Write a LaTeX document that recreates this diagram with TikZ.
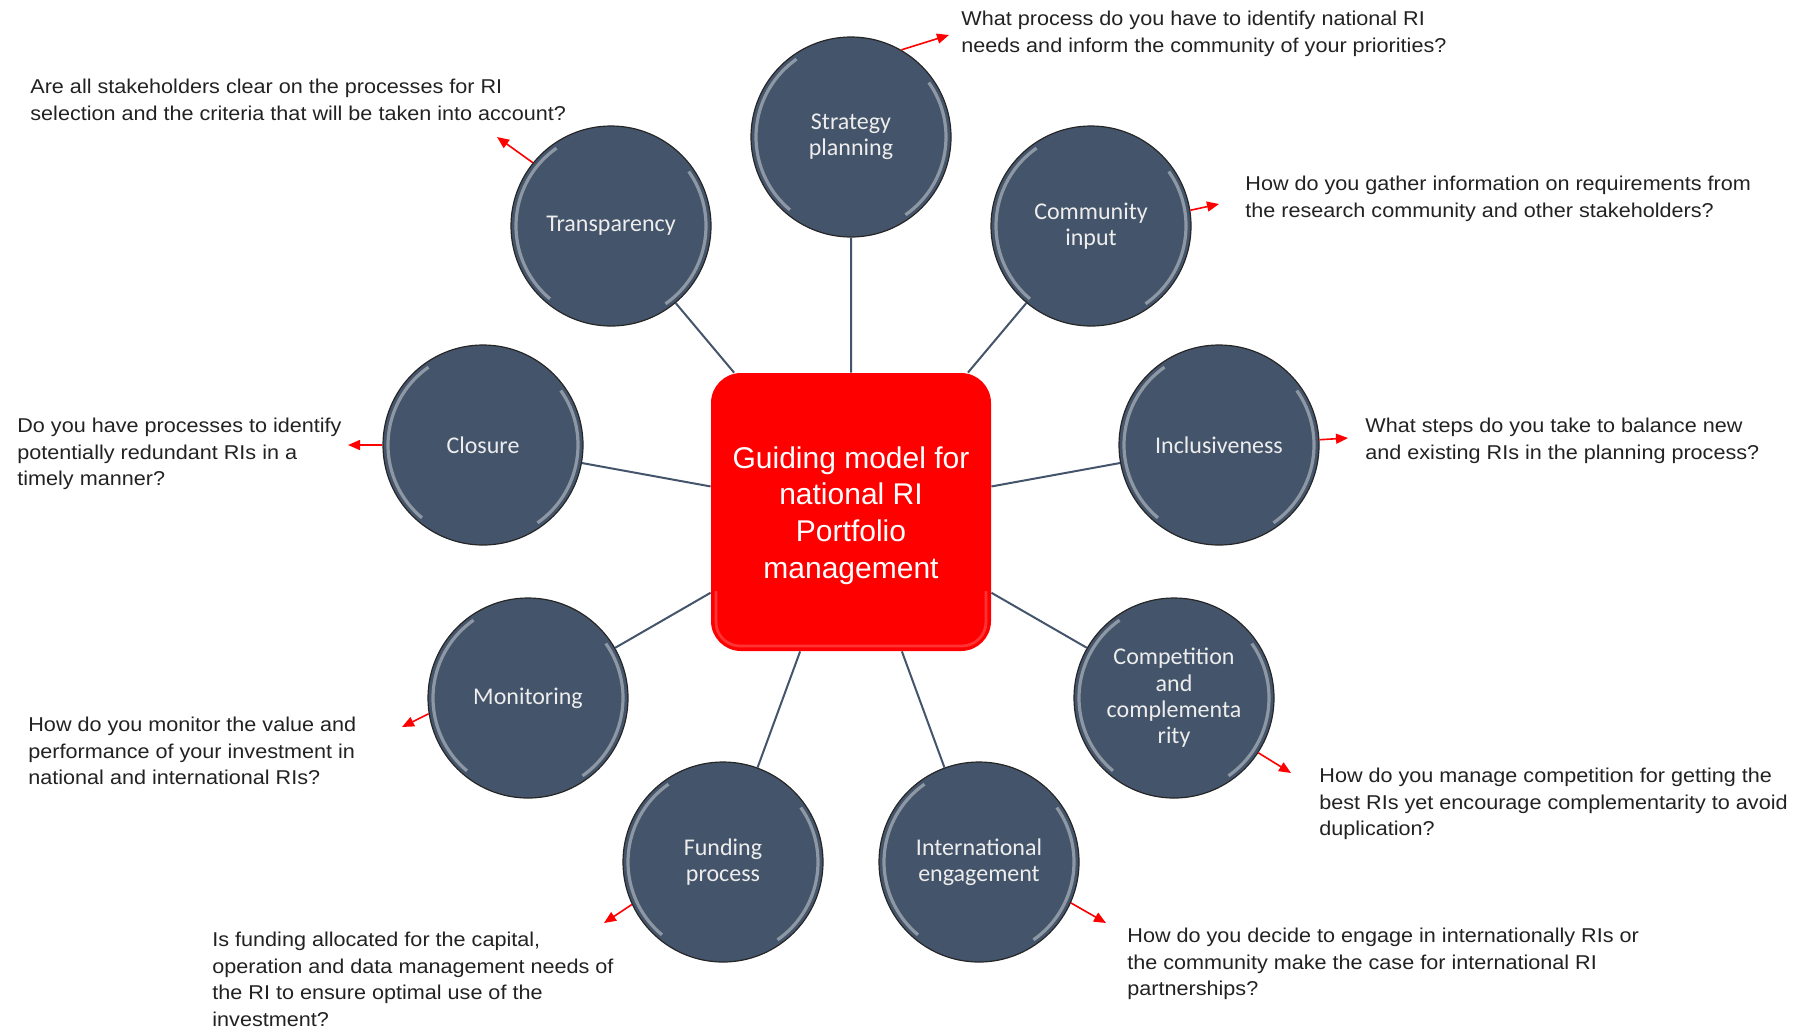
\documentclass[tikz,border=0pt]{standalone}
\usepackage{fontspec}
\setmainfont{Liberation Sans}
\newfontfamily\carlito{Carlito}
\newfontfamily\askfont[FakeStretch=1.08]{Liberation Sans}
\usetikzlibrary{arrows.meta,positioning,shapes}
\definecolor{slate}{HTML}{44546A}
\definecolor{bubbletext}{HTML}{EDEDED}
\definecolor{hubred}{HTML}{FF0000}
\definecolor{asktext}{HTML}{222222}

\begin{document}
\begin{tikzpicture}[x=0.5pt,y=-0.5pt,
  bubble/.style={circle,minimum size=100pt,inner sep=0pt,fill=slate,draw=black!85,line width=.6pt,
    align=center,text=bubbletext,font=\carlito\fontsize{12}{13.2}\selectfont,
    path picture={
      \draw[white,opacity=.4,line width=1.6pt] ([shift={(125:47.5pt)}]path picture bounding box.center) arc[start angle=125,end angle=230,radius=47.5pt];
      \draw[white,opacity=.4,line width=1.6pt] ([shift={(-55:47.5pt)}]path picture bounding box.center) arc[start angle=-55,end angle=35,radius=47.5pt];}},
  hub/.style={rectangle,rounded corners=15pt,minimum width=140pt,minimum height=139pt,fill=hubred,
    text=white,align=center,font=\fontsize{15}{18.4}\selectfont,
    path picture={\draw[white,opacity=.2,line width=1.4pt,rounded corners=12pt]
      ([shift={(2.5pt,30pt)}]path picture bounding box.south west) |- ([shift={(-2.5pt,2.5pt)}]path picture bounding box.south east) -- ++(0,27.5pt);}},
  question/.style={anchor=north west,inner sep=0pt,align=left,text=asktext,font=\askfont\fontsize{10}{13.2}\selectfont},
  spoke/.style={draw=slate,line width=1pt},
  cue/.style={draw=red,line width=.8pt,-{Triangle[length=6pt,width=5pt]}}]
\useasboundingbox (0,0) rectangle (1803,1029);

\node[hub] (hub) at (851,512) {\\[-4pt]Guiding model for\\national RI\\Portfolio\\management};

\node[bubble] (sp) at (851,137) {Strategy\\planning};
\node[bubble] (ci) at (1091,226) {Community\\input};
\node[bubble] (incl) at (1219,445) {Inclusiveness};
\node[bubble] (cc) at (1174,698) {Competition\\and\\complementa\\rity};
\node[bubble] (ie) at (979,862) {International\\engagement};
\node[bubble] (fp) at (723,862) {Funding\\process};
\node[bubble] (mo) at (528,698) {Monitoring};
\node[bubble] (cl) at (483,445) {Closure};
\node[bubble] (tr) at (611,226) {Transparency};

\draw[spoke] (hub)--(sp) (hub)--(ci) (hub)--(incl) (hub)--(cc) (hub)--(ie)
  (hub)--(fp) (hub)--(mo) (hub)--(cl) (hub)--(tr);

\coordinate (spq) at (949,35);
\coordinate (ciq) at (1219,204);
\coordinate (inclq) at (1348,438);
\coordinate (ccq) at (1291,773);
\coordinate (ieq) at (1106,923);
\coordinate (fpq) at (604,923);
\coordinate (moq) at (402,727);
\coordinate (clq) at (348,445);
\coordinate (trq) at (497,137);
\draw[cue] (sp.60)--(spq);
\draw[cue] (ci.9)--(ciq);
\draw[cue] (incl.3)--(inclq);
\draw[cue] (cc.-33)--(ccq);
\draw[cue] (ie.-24)--(ieq);
\draw[cue] (fp.205)--(fpq);
\draw[cue] (mo.189)--(moq);
\draw[cue] (cl.180)--(clq);
\draw[cue] (tr.141)--(trq);

\node[question] (spt) at (961,11) {What process do you have to identify national RI\\needs and inform the community of your priorities?};
\node[question] (cit) at (1245,176) {How do you gather information on requirements from\\the research community and other stakeholders?};
\node[question] (inclt) at (1365,418) {What steps do you take to balance new\\and existing RIs in the planning process?};
\node[question] (cct) at (1319,768) {How do you manage competition for getting the\\best RIs yet encourage complementarity to avoid\\duplication?};
\node[question] (iet) at (1127,928) {How do you decide to engage in internationally RIs or\\the community make the case for international RI\\partnerships?};
\node[question] (fpt) at (212,932) {Is funding allocated for the capital,\\operation and data management needs of\\the RI to ensure optimal use of the\\investment?};
\node[question] (mot) at (28,717) {How do you monitor the value and\\performance of your investment in\\national and international RIs?};
\node[question] (clt) at (17,418) {Do you have processes to identify\\potentially redundant RIs in a\\timely manner?};
\node[question] (trt) at (30,79) {Are all stakeholders clear on the processes for RI\\selection and the criteria that will be taken into account?};
\end{tikzpicture}
\end{document}
